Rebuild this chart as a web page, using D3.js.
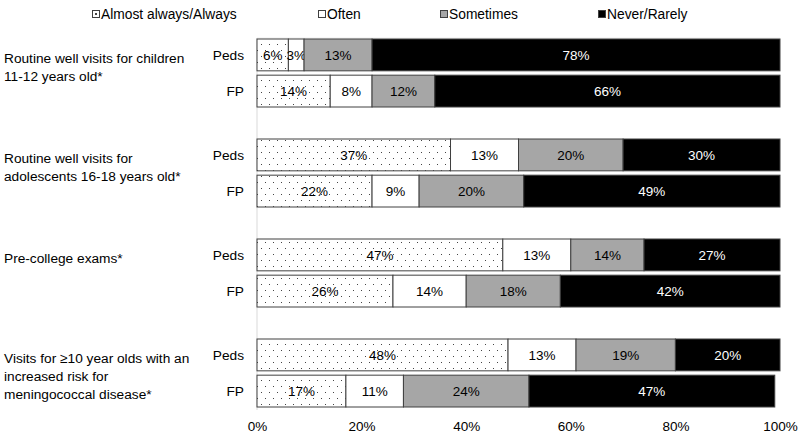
<!DOCTYPE html>
<html><head><meta charset="utf-8">
<script src="https://cdn.jsdelivr.net/npm/d3@7"></script>
<style>body{margin:0;background:#fff}svg{display:block}text{font-family:"Liberation Sans",Arial,sans-serif}</style>
</head><body><svg id="c" width="800" height="435"></svg>
<script>
const categories = [
  ["Routine well visits for children", "11-12 years old*"],
  ["Routine well visits for", "adolescents 16-18 years old*"],
  ["Pre-college exams*"],
  ["Visits for \u226510 year olds with an", "increased risk for", "meningococcal disease*"]
];
const groups = ["Peds", "FP"];
const seriesNames = ["Almost always/Always", "Often", "Sometimes", "Never/Rarely"];
const peds = [[6,3,13,78],[37,13,20,30],[47,13,14,27],[48,13,19,20]];
const fp   = [[14,8,12,66],[22,9,20,49],[26,14,18,42],[17,11,24,47]];
const ticks = [0,20,40,60,80,100];

const svg = d3.select("#c");
const defs = svg.append("defs");
const pat = defs.append("pattern").attr("id","dots").attr("patternUnits","userSpaceOnUse")
  .attr("width",8).attr("height",12);
pat.append("rect").attr("width",8).attr("height",12).attr("fill","#fff");
pat.append("rect").attr("x",1).attr("y",2).attr("width",1).attr("height",1).attr("fill","#444");
pat.append("rect").attr("x",5).attr("y",8).attr("width",1).attr("height",1).attr("fill","#444");
const fills = ["url(#dots)","#fff","#a6a6a6","#000"];
const legendFills = ["#fff","#fff","#a6a6a6","#000"];

const x = d3.scaleLinear().domain([0,100]).range([257,780]).clamp(true);
const yCat = d3.scaleBand().domain(d3.range(categories.length)).range([39,439]);
const ySub = d3.scaleBand().domain(groups).range([0,68]).paddingInner(0.12);

// light frame lines
svg.append("line").attr("x1",257).attr("x2",257).attr("y1",38).attr("y2",410).attr("stroke","#d9d9d9");
svg.append("line").attr("x1",257).attr("x2",780).attr("y1",38).attr("y2",38).attr("stroke","#eeeeee");

const data = [];
categories.forEach((c,i)=>{
  [peds[i], fp[i]].forEach((vals,g)=>{
    let cum = 0;
    vals.forEach((v,k)=>{ data.push({i, g:groups[g], k, v, x0:cum, x1:cum+v}); cum += v; });
  });
});

const segs = svg.append("g").selectAll("g").data(data).join("g");
segs.append("rect")
  .attr("x", d=>x(d.x0)).attr("width", d=>x(d.x1)-x(d.x0))
  .attr("y", d=>yCat(d.i)+ySub(d.g)).attr("height", ySub.bandwidth())
  .attr("fill", d=>fills[d.k]).attr("stroke","#404040").attr("stroke-width",1);
segs.append("text")
  .attr("x", d=>(x(d.x0)+x(d.x1))/2).attr("y", d=>yCat(d.i)+ySub(d.g)+ySub.bandwidth()/2)
  .attr("dy","0.35em").attr("text-anchor","middle").attr("font-size",13.5)
  .attr("fill", d=>d.k===3?"#fff":"#000").text(d=>d.v+"%");

// group labels
categories.forEach((c,i)=>{
  groups.forEach(g=>{
    svg.append("text").attr("x",244).attr("y",yCat(i)+ySub(g)+ySub.bandwidth()/2)
      .attr("dy","0.35em").attr("text-anchor","end").attr("font-size",13.7).text(g);
  });
  const top = yCat(i) + ySub("Peds") + ySub.bandwidth()/2 + 8;
  const t = svg.append("text").attr("x",4).attr("font-size",13.7);
  c.forEach((line,j)=>{
    t.append("tspan").attr("x",4).attr("y", top + j*18).text(line);
  });
});

// x axis
const ax = svg.append("g").attr("transform","translate(0,410)")
  .call(d3.axisBottom(x).tickValues(ticks).tickFormat(d=>d+"%").tickSize(0).tickPadding(11));
ax.select(".domain").remove();
ax.selectAll("text").attr("font-size",13.5).attr("fill","#000").style("font-family","Liberation Sans, Arial, sans-serif");

// legend
const legX = [92, 318, 440, 598];
const leg = svg.append("g").selectAll("g").data(seriesNames).join("g")
  .attr("transform",(d,i)=>`translate(${legX[i]},14)`);
leg.append("rect").attr("x",0.5).attr("y",-3.5).attr("width",7).attr("height",7)
  .attr("fill",(d,i)=>i===0?"#fff":legendFills[i]).attr("stroke","#404040");
leg.filter((d,i)=>i===0).append("rect").attr("x",3).attr("y",-1).attr("width",2).attr("height",2).attr("fill","#444");
leg.append("text").attr("x",9).attr("y",0).attr("dy","0.35em").attr("font-size",13.8).text(d=>d);
</script></body></html>
